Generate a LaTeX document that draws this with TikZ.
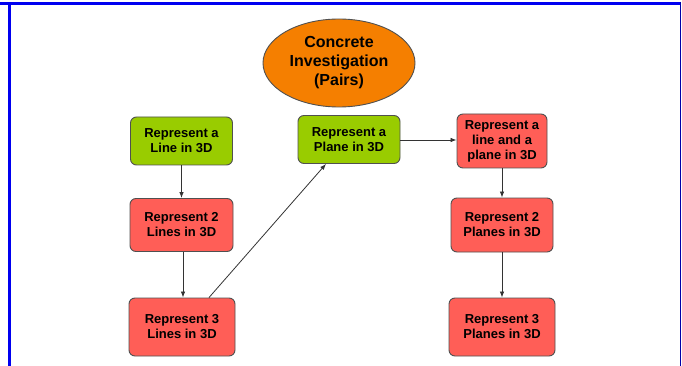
\documentclass[tikz,border=0pt]{standalone}
\usepackage{fontspec}
\setmainfont{Liberation Sans}
\usetikzlibrary{arrows.meta,shapes.geometric}
\definecolor{leafgreen}{HTML}{99CC00}
\definecolor{salmonred}{HTML}{FF5E57}
\definecolor{deeporange}{HTML}{F57F00}
\definecolor{frameblue}{HTML}{0000F0}
\definecolor{edgegray}{HTML}{505050}
\tikzset{
  card/.style={draw=edgegray, line width=0.9pt, rounded corners=6pt, align=center,
    inner sep=0pt, font=\fontsize{13}{15}\selectfont\bfseries},
  greencard/.style={card, fill=leafgreen},
  redcard/.style={card, fill=salmonred},
  link/.style={draw=black!80, line width=0.8pt, -{Latex[length=6pt,width=4.5pt]}},
}
\begin{document}
\begin{tikzpicture}[x=1pt,y=-1pt]
  \useasboundingbox (0,0) rectangle (682,366);
  % page frame
  \draw[frameblue, line width=3pt] (0,3.5) -- (681,3.5);
  \draw[frameblue, line width=3pt] (9.5,2) -- (9.5,366);
  \draw[frameblue!70!black, line width=1pt] (680.8,2) -- (680.8,366);

  % title ellipse
  \node[ellipse, draw=edgegray, line width=0.9pt, fill=deeporange,
        minimum width=152pt, minimum height=88pt, inner sep=0pt, align=center,
        font=\fontsize{16}{19}\selectfont\bfseries] (title) at (339,63)
        {Concrete\\Investigation\\(Pairs)};

  % left column
  \node[greencard, minimum width=102pt, minimum height=48pt] (line1) at (181.5,141)
        {Represent a\\Line in 3D};
  \node[redcard, minimum width=103pt, minimum height=53pt] (line2) at (181.5,225)
        {Represent 2\\Lines in 3D};
  \node[redcard, minimum width=106pt, minimum height=58pt] (line3) at (182,327)
        {Represent 3\\Lines in 3D};

  % middle
  \node[greencard, minimum width=102pt, minimum height=48pt] (plane1) at (349,139.5)
        {Represent a\\Plane in 3D};

  % right column
  \node[redcard, minimum width=90pt, minimum height=54pt] (mixed) at (502,141)
        {Represent a\\line and a\\plane in 3D};
  \node[redcard, minimum width=102pt, minimum height=54pt] (plane2) at (502,225)
        {Represent 2\\Planes in 3D};
  \node[redcard, minimum width=106pt, minimum height=58pt] (plane3) at (502,327)
        {Represent 3\\Planes in 3D};

  % connectors
  \draw[link] (line1) -- (line2);
  \draw[link] (line2.south -| 183,0) -- (line3.north -| 183,0);
  \draw[link] (line3.north -| 209,0) -- (plane1.south -| 326,0);
  \draw[link] (plane1.east |- 0,140) -- (mixed.west |- 0,140);
  \draw[link] (mixed) -- (plane2);
  \draw[link] (plane2) -- (plane3);
\end{tikzpicture}
\end{document}
